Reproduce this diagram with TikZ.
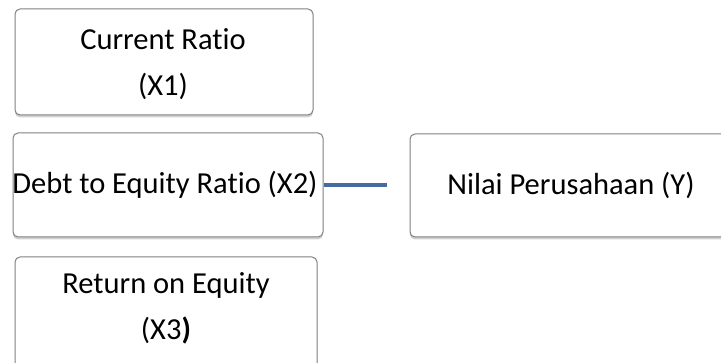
\documentclass[tikz,border=0pt]{standalone}
\usepackage{fontspec}
\setmainfont{Carlito}[RawFeature=-liga]
\usetikzlibrary{shadows}
\begin{document}
\begin{tikzpicture}[x=1pt,y=-1pt,
  vbox/.style={draw=black!50, line width=1pt, fill=white, rounded corners=5pt,
    drop shadow={shadow xshift=0pt, shadow yshift=-2.5pt, opacity=0.3, fill=black!60}},
  lbl/.style={font=\fontsize{30.5}{36}\selectfont, text=black, inner sep=0pt}
]
\useasboundingbox (0,0) rectangle (721,363);
\clip (0,0) rectangle (721,363);
% boxes
\path[vbox] (15,9) rectangle (313,115);
\path[vbox] (13,133) rectangle (323,237);
\path[vbox] (410,134) rectangle (760,237);
\path[vbox] (15,257) rectangle (317,375);
% texts
\node[lbl] (t1a) at (163,39) {Current Ratio};
\node[lbl] (t1b) at (163,86) {(X1)};
\node[lbl] (t2) at (165,185) {Debt to Equity Ratio (X2)};
\node[lbl] (ty) at (571,185) {Nilai Perusahaan (Y)};
\node[lbl] (t3a) at (166,285) {Return on Equity};
\node[lbl] (t3b) at (166,330) {(X3\textbf{)}};
\coordinate (c1) at (324,185);
\coordinate (c2) at (387,185);
\draw[line width=4.6pt, draw={rgb,255:red,68;green,108;blue,160}] (c1) -- (c2);
\end{tikzpicture}
\end{document}
